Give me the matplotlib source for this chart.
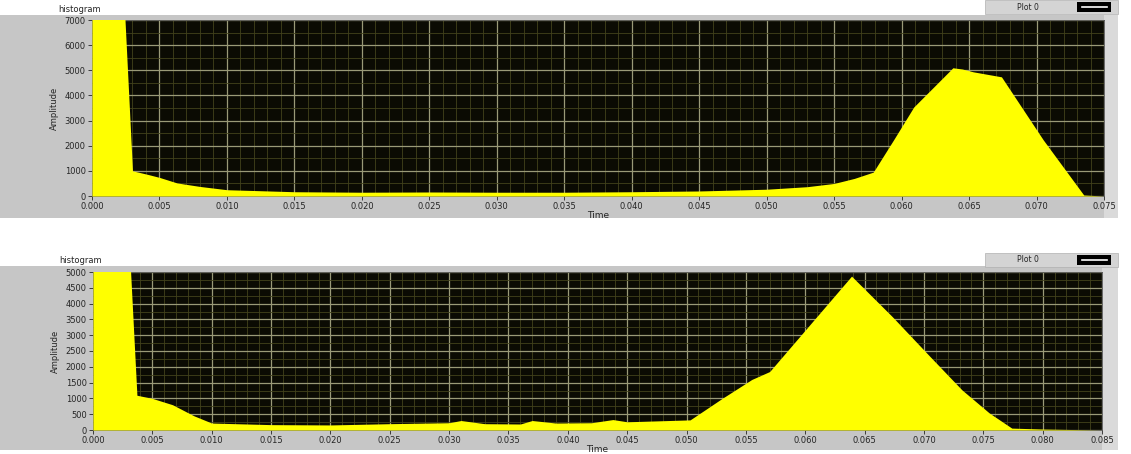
# -*- coding: utf-8 -*-
"""
Two LabVIEW-like histogram panels (yellow filled waveform on black)
"""

import matplotlib.pyplot as plt
from matplotlib.patches import Rectangle
from matplotlib.ticker import MultipleLocator, FormatStrFormatter
import numpy as np

###############################
# DATA
###############################
x_top = [0.0, 0.0024, 0.0030, 0.0035, 0.0042, 0.0050, 0.0063, 0.0080, 0.0100,
         0.0150, 0.0200, 0.0250, 0.0300, 0.0350, 0.0400, 0.0450, 0.0500,
         0.0530, 0.0550, 0.0565, 0.0579, 0.0594, 0.0609, 0.0625, 0.0638,
         0.0645, 0.0653, 0.0674, 0.0705, 0.0735, 0.0750]
y_top = [7500, 7500, 1000, 940, 850, 740, 520, 380, 250,
         170, 150, 160, 150, 150, 170, 200, 270,
         370, 500, 700, 950, 2230, 3540, 4400, 5100,
         5050, 4940, 4740, 2230, 40, 0]

x_bot = [0.0, 0.0031, 0.0037, 0.0050, 0.0067, 0.0085, 0.0100, 0.0150, 0.0200,
         0.0250, 0.0300, 0.0310, 0.0330, 0.0360, 0.0370, 0.0390, 0.0420,
         0.0438, 0.0450, 0.0503, 0.0530, 0.0555, 0.0570, 0.0639, 0.0673,
         0.0705, 0.0732, 0.0755, 0.0774, 0.0800, 0.0850]
y_bot = [5500, 5500, 1100, 1000, 800, 450, 220, 170, 160,
         200, 230, 300, 200, 190, 300, 220, 230,
         330, 260, 320, 1000, 1600, 1850, 4870, 3600,
         2330, 1270, 540, 60, 30, 0]

panel_title = "histogram"
legend_text = "Plot 0"
x_label = "Time"
y_label = "Amplitude"

###############################
# STYLE
###############################
W, H = 1131, 454
panel_col = "#c6c6c6"
strip_col = "#dadada"
bg_col = "#0b0b03"
major_col = "#9a9a78"
minor_col = "#42421c"
fill_col = "#ffff00"
txt_col = "#252525"

fig = plt.figure(figsize=(W / 100, H / 100), dpi=100)
fig.patch.set_facecolor("white")


def px(x0, y0, x1, y1):
    """pixel box -> figure fraction [left, bottom, width, height]"""
    return [x0 / W, 1 - y1 / H, (x1 - x0) / W, (y1 - y0) / H]


def panel(box, ax_box, legend_box, x, y, xmax, ymax, ymaj, ymin_step, title_y):
    # grey frame behind the graph
    fig.patches.append(Rectangle(box[:2], box[2], box[3], transform=fig.transFigure,
                                 facecolor=panel_col, edgecolor="none", zorder=-3))
    # light strip on the right side
    sx = ax_box[0] + ax_box[2]
    fig.patches.append(Rectangle((sx, box[1]), box[0] + box[2] - sx, box[3],
                                 transform=fig.transFigure, facecolor=strip_col,
                                 edgecolor="none", zorder=-2))
    # legend box
    fig.patches.append(Rectangle(legend_box[:2], legend_box[2], legend_box[3],
                                 transform=fig.transFigure, facecolor="#d4d4d4",
                                 edgecolor="#b0b0b0", lw=0.5, zorder=1))
    fig.text(legend_box[0] + 0.038, legend_box[1] + legend_box[3] / 2, legend_text,
             fontsize=5.5, color=txt_col, va="center", ha="center")
    ix = legend_box[0] + legend_box[2] - 0.036
    fig.patches.append(Rectangle((ix, legend_box[1] + 0.004), 0.030, legend_box[3] - 0.008,
                                 transform=fig.transFigure, facecolor="black",
                                 edgecolor="none", zorder=2))
    fig.lines.append(plt.Line2D([ix + 0.004, ix + 0.026],
                                [legend_box[1] + legend_box[3] / 2] * 2,
                                transform=fig.transFigure, color="white", lw=1.2, zorder=3))
    fig.text(ax_box[0] - 0.03, title_y, panel_title, fontsize=6, color=txt_col, va="bottom")

    ax = fig.add_axes(ax_box)
    ax.set_zorder(5)
    ax.set_facecolor(bg_col)
    ax.fill_between(x, 0, y, color=fill_col, lw=0, zorder=3)
    ax.set_xlim(0, xmax)
    ax.set_ylim(0, ymax)
    ax.xaxis.set_major_locator(MultipleLocator(0.005))
    ax.xaxis.set_minor_locator(MultipleLocator(0.001))
    ax.yaxis.set_major_locator(MultipleLocator(ymaj))
    ax.yaxis.set_minor_locator(MultipleLocator(ymin_step))
    ax.xaxis.set_major_formatter(FormatStrFormatter("%.3f"))
    ax.grid(which="major", color=major_col, lw=0.9, zorder=1)
    ax.grid(which="minor", color=minor_col, lw=0.6, zorder=1)
    ax.set_axisbelow(True)
    for s in ax.spines.values():
        s.set_color("#555555")
        s.set_linewidth(0.6)
    ax.tick_params(which="major", length=3, width=0.6, colors=txt_col,
                   labelsize=6, pad=1.5)
    ax.tick_params(which="minor", length=0)
    ax.set_xlabel(x_label, fontsize=6.5, color=txt_col, labelpad=0)
    ax.set_ylabel(y_label, fontsize=6, color=txt_col, labelpad=4)
    return ax


#############################
# TOP PANEL
#############################
panel(px(0, 15, 1118, 218), px(92, 20, 1104, 196), px(985, 0, 1118, 14),
      x_top, y_top, 0.075, 7000, 1000, 500, 1 - 14 / H)

#############################
# BOTTOM PANEL
#############################
panel(px(0, 266, 1118, 450), px(93, 272, 1102, 430), px(985, 253, 1118, 267),
      x_bot, y_bot, 0.085, 5000, 500, 250, 1 - 265 / H)

fig.savefig("out.png", dpi=100)
